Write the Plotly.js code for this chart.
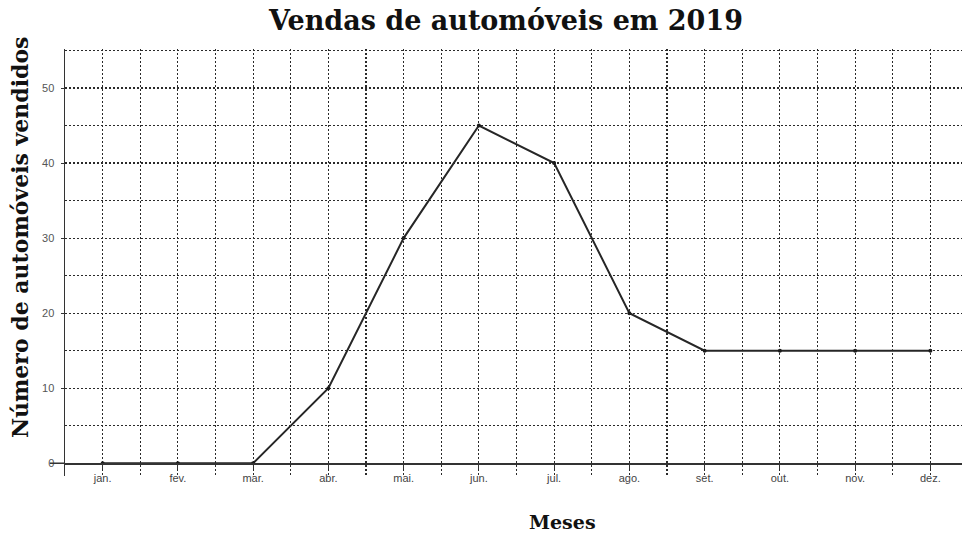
<!DOCTYPE html>
<html>
<head>
<meta charset="utf-8">
<script src="https://cdn.plot.ly/plotly-3.0.1.min.js"></script>
<style>html,body{margin:0;padding:0;background:#fff}#chart{width:962px;height:534px}</style>
</head>
<body>
<div id="chart"></div>
<script>
const months = ["jan.","fev.","mar.","abr.","mai.","jun.","jul.","ago.","set.","out.","nov.","dez."];
const monthIndex = [0,1,2,3,4,5,6,7,8,9,10,11];
const sales = [0,0,0,10,30,45,40,20,15,15,15,15];
const yTicks = [0,10,20,30,40,50];

const serif = "DejaVu Serif, serif";
const dotted = "1.5px,2.5px";
const gridCol = "#2a2a2a";

const trace = {
  x: monthIndex, y: sales, type: "scatter", mode: "lines+markers",
  line: {color: "#262626", width: 2},
  marker: {color: "#1a1a1a", size: 4},
  cliponaxis: false, hoverinfo: "skip"
};

const layout = {
  width: 962, height: 534,
  margin: {l: 65, r: 0, t: 49, b: 58},
  paper_bgcolor: "#fff", plot_bgcolor: "#fff",
  showlegend: false,
  title: {text: "<b>Vendas de automóveis em 2019</b>", font: {family: serif, size: 27, color: "#111"},
          x: 0.526, xanchor: "center", y: 0.962, yanchor: "middle"},
  xaxis: {
    range: [-0.5, 11.42], tickvals: monthIndex, ticktext: months,
    anchor: "free", position: 0.03,
    showline: true, linecolor: "#333", linewidth: 1.5,
    ticks: "outside", ticklen: 4, tickwidth: 1.2, tickcolor: "#333",
    tickfont: {family: "Liberation Sans, Arial, sans-serif", size: 11, color: "#444"},
    showgrid: false,
    minor: {dtick: 0.5, tick0: 0, showgrid: true, gridcolor: gridCol, gridwidth: 1.2, griddash: dotted, ticks: ""},
    zeroline: false, fixedrange: true
  },
  yaxis: {
    range: [-1.7, 55.2], tickvals: yTicks,
    showline: true, linecolor: "#333", linewidth: 1.5,
    ticks: "outside", ticklen: 3, tickwidth: 1, tickcolor: "#333",
    tickfont: {family: "Liberation Sans, Arial, sans-serif", size: 11, color: "#555"},
    ticklabelstandoff: 4,
    showgrid: false,
    minor: {dtick: 5, tick0: 0, showgrid: true, gridcolor: gridCol, gridwidth: 1.2, griddash: dotted, ticks: ""},
    zeroline: false, fixedrange: true
  },
  shapes: [
    {type: "line", xref: "paper", yref: "y", x0: -0.017, x1: 0, y0: 0, y1: 0,
     line: {color: "#333", width: 1.5}}
  ],
  annotations: [
    {text: "<b>Número de automóveis vendidos</b>", xref: "paper", yref: "paper",
     x: -0.05, y: 0.56, xanchor: "center", yanchor: "middle", showarrow: false, textangle: -90,
     font: {family: serif, size: 22, color: "#111"}},
    {text: "<b>Meses</b>", xref: "paper", yref: "paper",
     x: 0.555, y: -0.107, xanchor: "center", yanchor: "middle", showarrow: false,
     font: {family: serif, size: 19, color: "#111"}}
  ]
};

Plotly.newPlot("chart", [trace], layout, {displayModeBar: false, staticPlot: true});
</script>
</body>
</html>
